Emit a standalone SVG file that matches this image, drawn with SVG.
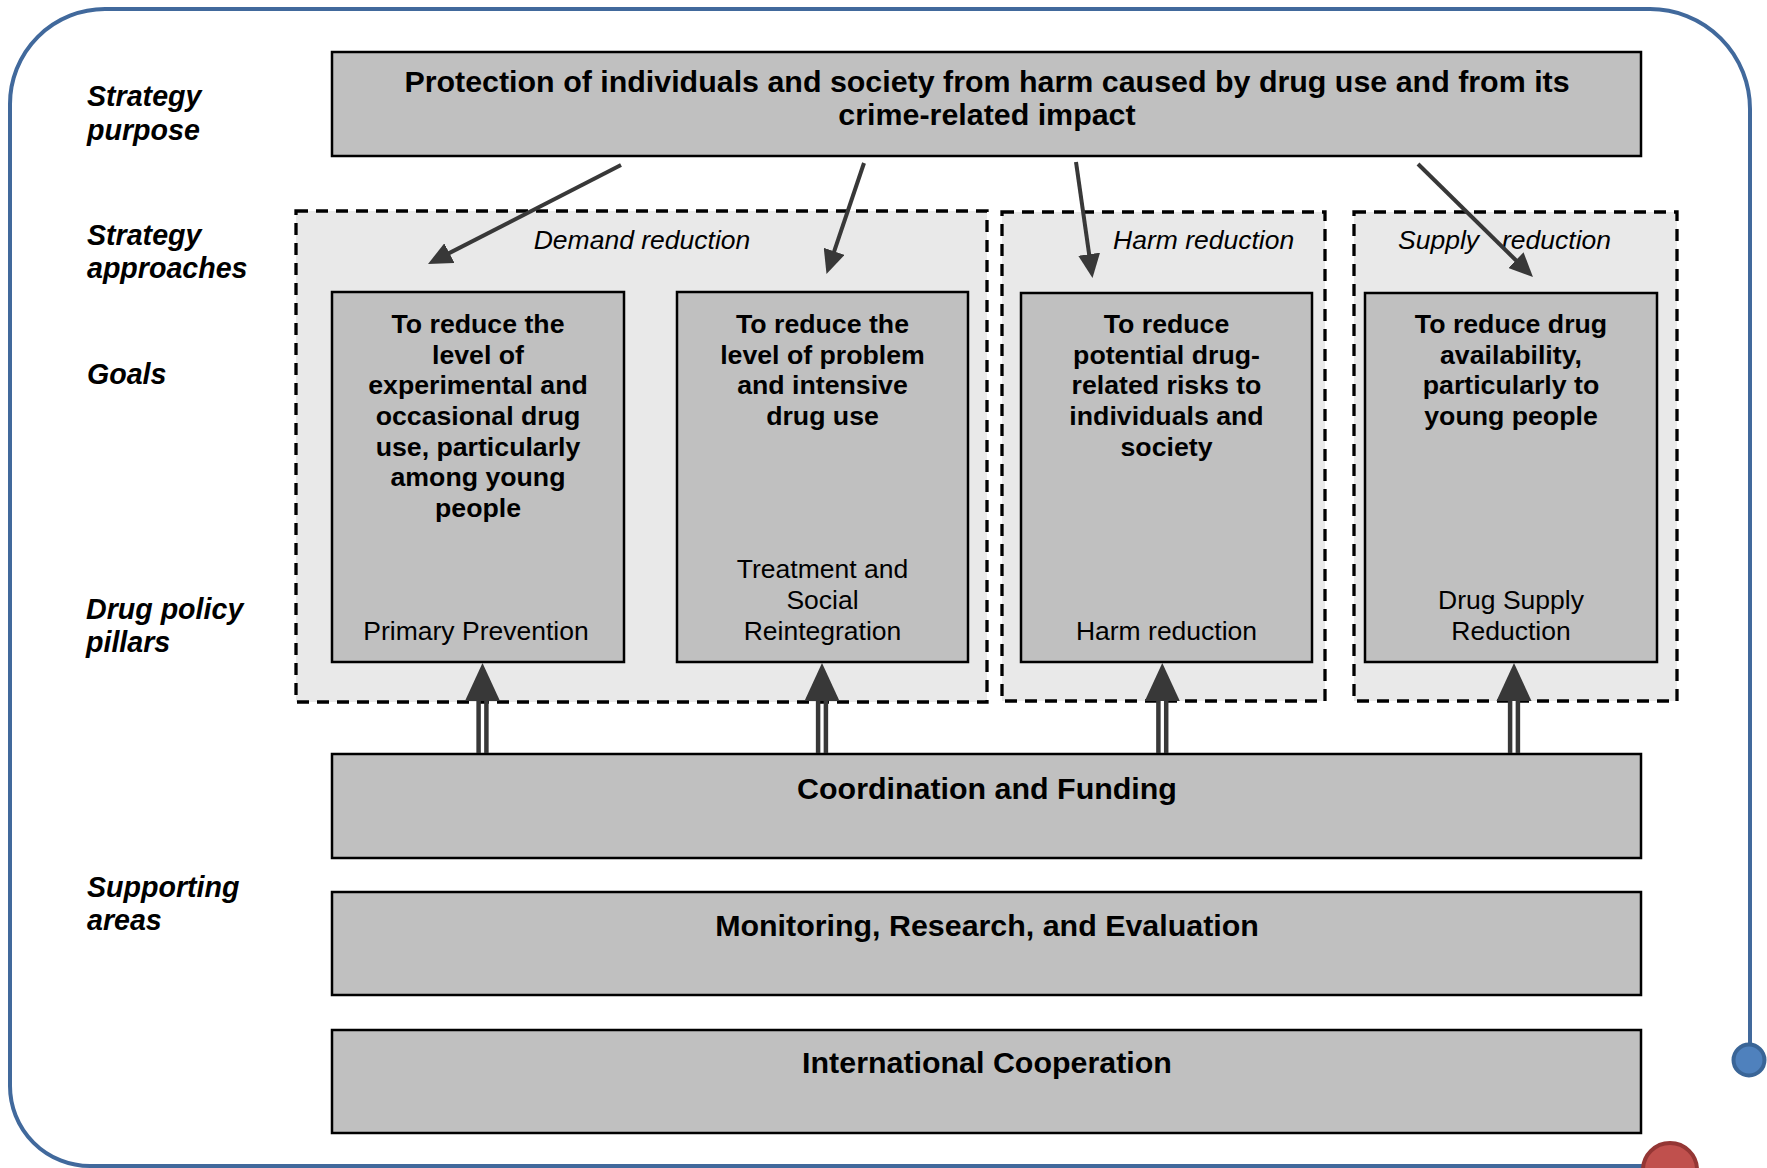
<svg xmlns="http://www.w3.org/2000/svg" width="1767" height="1168" viewBox="0 0 1767 1168">
<style>
.lbl{font-family:"Liberation Sans",Arial,sans-serif;font-size:28.6px;font-weight:bold;font-style:italic;fill:#000}
.box{fill:#c0c0c0;stroke:#000;stroke-width:2.5}
.dash{fill:#e9e9e9;stroke:#000;stroke-width:3.3;stroke-dasharray:12 8}
.big{font-family:"Liberation Sans",Arial,sans-serif;font-size:30.4px;font-weight:bold;fill:#000;text-anchor:middle}
.goal{font-family:"Liberation Sans",Arial,sans-serif;font-size:26.7px;font-weight:bold;fill:#000;text-anchor:middle}
.pil{font-family:"Liberation Sans",Arial,sans-serif;font-size:26.5px;fill:#000;text-anchor:middle}
.appr{font-family:"Liberation Sans",Arial,sans-serif;font-size:26.5px;font-style:italic;fill:#000}
.conn{stroke:#383838;stroke-width:4;fill:none}
.dbl{stroke:#383838;stroke-width:4.5}
.head{fill:#383838}
</style>
<defs>
<marker id="ah" markerUnits="userSpaceOnUse" viewBox="0 0 24 22" refX="4" refY="11" markerWidth="24" markerHeight="22" orient="auto">
<path d="M0,0 L24,11 L0,22 z" fill="#383838"/>
</marker>
</defs>
<rect width="1767" height="1168" fill="#fff"/>
<g id="frame">
<path d="M1642,1166 H90 A80,80 0 0 1 10,1086 V104 A95,95 0 0 1 105,9 H1650 A100,100 0 0 1 1750,109 V1044" fill="none" stroke="#41699c" stroke-width="4"/>
<circle cx="1749" cy="1060" r="15.5" fill="#4f81bd" stroke="#3a6597" stroke-width="4"/>
<circle cx="1670" cy="1170" r="27" fill="#c0504d" stroke="#943634" stroke-width="4"/>
</g>
<g id="row-labels">
<text class="lbl" x="87" y="106">Strategy</text>
<text class="lbl" x="87" y="140">purpose</text>
<text class="lbl" x="87" y="245">Strategy</text>
<text class="lbl" x="87" y="278">approaches</text>
<text class="lbl" x="87" y="384">Goals</text>
<text class="lbl" x="86" y="619">Drug policy</text>
<text class="lbl" x="86" y="652">pillars</text>
<text class="lbl" x="87" y="897">Supporting</text>
<text class="lbl" x="87" y="930">areas</text>
</g>
<g id="approach-demand">
<rect class="dash" x="296" y="211" width="691" height="491"/>
<text class="appr" x="642" y="249" text-anchor="middle">Demand reduction</text>
</g>
<g id="approach-harm">
<rect class="dash" x="1002" y="212" width="323" height="489"/>
<text class="appr" x="1113" y="249">Harm reduction</text>
</g>
<g id="approach-supply">
<rect class="dash" x="1354" y="212" width="323" height="489"/>
<text class="appr" y="249"><tspan x="1398">Supply</tspan><tspan x="1502">reduction</tspan></text>
</g>
<g id="purpose">
<rect class="box" x="332" y="52" width="1309" height="104"/>
<text class="big" x="987" y="92">Protection of individuals and society from harm caused by drug use and from its</text>
<text class="big" x="987" y="125">crime-related impact</text>
</g>
<g id="goal-prevention">
<rect class="box" x="332" y="292" width="292" height="370"/>
<text class="goal"><tspan x="478" y="333">To reduce the</tspan><tspan x="478" y="364">level of</tspan><tspan x="478" y="394">experimental and</tspan><tspan x="478" y="425">occasional drug</tspan><tspan x="478" y="456">use, particularly</tspan><tspan x="478" y="486">among young</tspan><tspan x="478" y="517">people</tspan></text>
<text class="pil" x="476" y="640">Primary Prevention</text>
</g>
<g id="goal-treatment">
<rect class="box" x="677" y="292" width="291" height="370"/>
<text class="goal"><tspan x="822.5" y="333">To reduce the</tspan><tspan x="822.5" y="364">level of problem</tspan><tspan x="822.5" y="394">and intensive</tspan><tspan x="822.5" y="425">drug use</tspan></text>
<text class="pil"><tspan x="822.5" y="578">Treatment and</tspan><tspan x="822.5" y="609">Social</tspan><tspan x="822.5" y="640">Reintegration</tspan></text>
</g>
<g id="goal-harm">
<rect class="box" x="1021" y="293" width="291" height="369"/>
<text class="goal"><tspan x="1166.5" y="333">To reduce</tspan><tspan x="1166.5" y="364">potential drug-</tspan><tspan x="1166.5" y="394">related risks to</tspan><tspan x="1166.5" y="425">individuals and</tspan><tspan x="1166.5" y="456">society</tspan></text>
<text class="pil" x="1166.5" y="640">Harm reduction</text>
</g>
<g id="goal-supply">
<rect class="box" x="1365" y="293" width="292" height="369"/>
<text class="goal"><tspan x="1511" y="333">To reduce drug</tspan><tspan x="1511" y="364">availability,</tspan><tspan x="1511" y="394">particularly to</tspan><tspan x="1511" y="425">young people</tspan></text>
<text class="pil"><tspan x="1511" y="609">Drug Supply</tspan><tspan x="1511" y="640">Reduction</tspan></text>
</g>
<g id="coordination">
<rect class="box" x="332" y="754" width="1309" height="104"/>
<text class="big" x="987" y="799">Coordination and Funding</text>
</g>
<g id="monitoring">
<rect class="box" x="332" y="892" width="1309" height="103"/>
<text class="big" x="987" y="936">Monitoring, Research, and Evaluation</text>
</g>
<g id="international">
<rect class="box" x="332" y="1030" width="1309" height="103"/>
<text class="big" x="987" y="1073">International Cooperation</text>
</g>
<g id="connectors">
<line class="conn" x1="621" y1="165" x2="445.8" y2="254.9" marker-end="url(#ah)"/>
<line class="conn" x1="864" y1="163" x2="832.9" y2="255.1" marker-end="url(#ah)"/>
<line class="conn" x1="1076" y1="162" x2="1089.7" y2="258.2" marker-end="url(#ah)"/>
<line class="conn" x1="1418" y1="164" x2="1518.7" y2="263" marker-end="url(#ah)"/>
<line class="dbl" x1="478.6" y1="698" x2="478.6" y2="753"/>
<line class="dbl" x1="486.4" y1="698" x2="486.4" y2="753"/>
<polygon class="head" points="482.5,663 465,701 500,701"/>
<line class="dbl" x1="818.1" y1="698" x2="818.1" y2="753"/>
<line class="dbl" x1="825.9" y1="698" x2="825.9" y2="753"/>
<polygon class="head" points="822,663 804.5,701 839.5,701"/>
<line class="dbl" x1="1158.4" y1="698" x2="1158.4" y2="753"/>
<line class="dbl" x1="1166.2" y1="698" x2="1166.2" y2="753"/>
<polygon class="head" points="1162.3,663 1144.8,701 1179.8,701"/>
<line class="dbl" x1="1510.1" y1="698" x2="1510.1" y2="753"/>
<line class="dbl" x1="1517.9" y1="698" x2="1517.9" y2="753"/>
<polygon class="head" points="1514,663 1496.5,701 1531.5,701"/>
</g>
</svg>
